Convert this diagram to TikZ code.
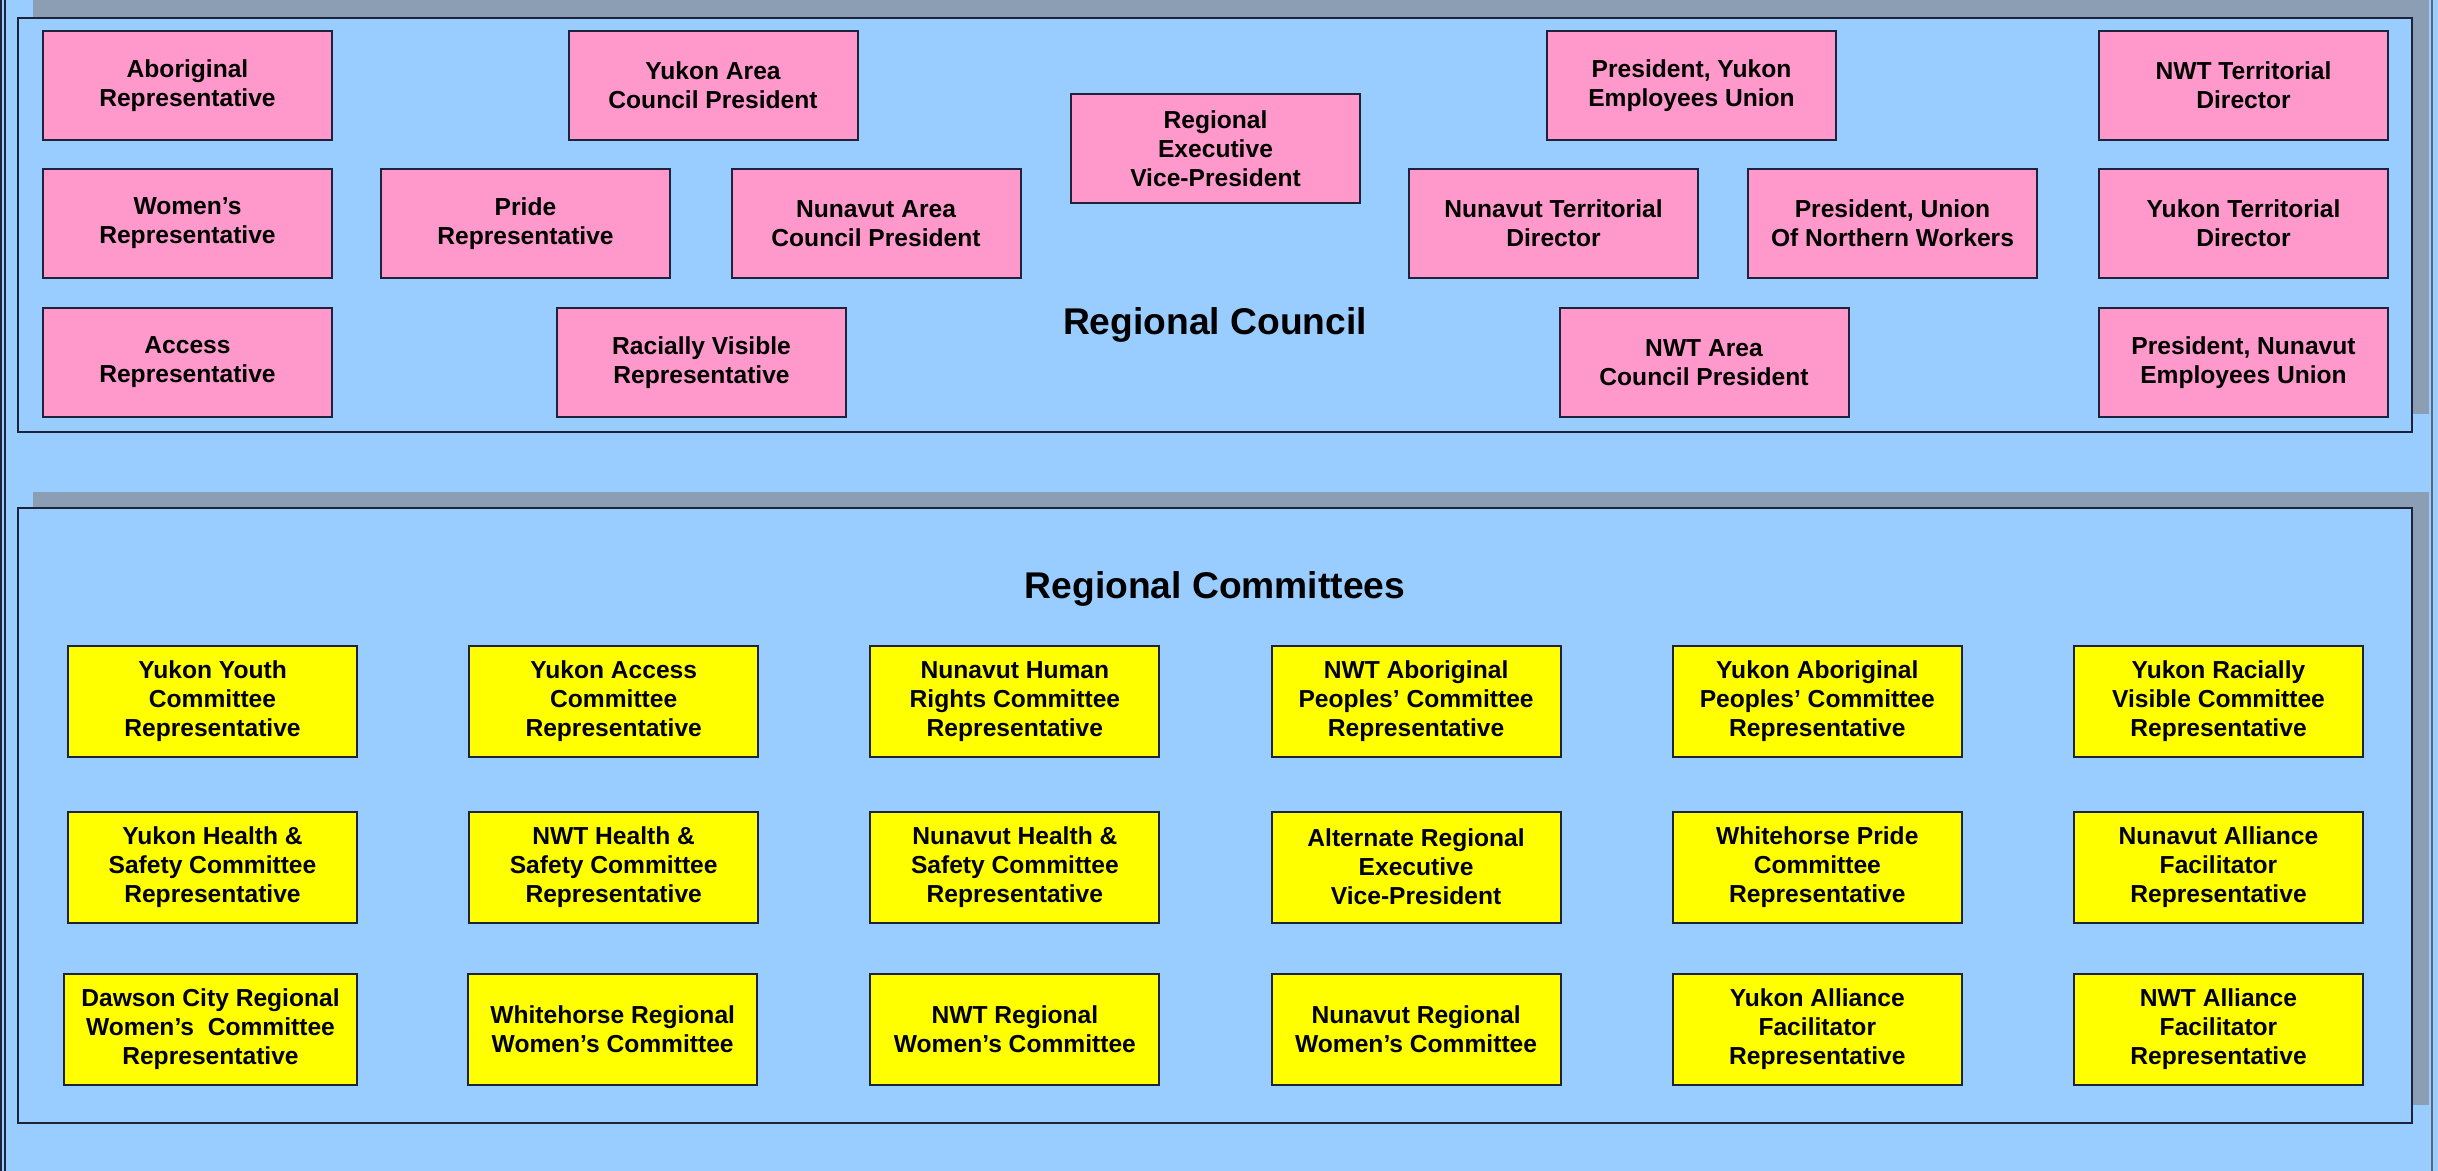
\documentclass[tikz,border=0pt]{standalone}
\usepackage{fontspec}
\setmainfont{Liberation Sans}
\definecolor{bg}{RGB}{153,204,255}
\definecolor{pinkfill}{RGB}{255,153,204}
\definecolor{yel}{RGB}{255,255,0}
\definecolor{shadowc}{RGB}{140,158,180}
\definecolor{edge}{RGB}{30,35,60}
\begin{document}
\begin{tikzpicture}[x=0.5pt,y=-0.5pt,
  box/.style={draw=edge, line width=1pt, minimum width=144.5pt, minimum height=54.5pt,
    inner sep=1pt, align=center, text=black,
    font=\fontsize{12.3}{14.5}\selectfont\bfseries},
  pinkbox/.style={box, fill=pinkfill},
  yelbox/.style={box, fill=yel, minimum height=55.5pt},
  title/.style={anchor=base, text=black, font=\fontsize{18.6}{22}\selectfont\bfseries},
  panel/.style={draw=edge, line width=1pt, fill=bg},
  shade/.style={fill=shadowc}]
\useasboundingbox (0,0) rectangle (2438,1171);
\fill[bg] (0,0) rectangle (2438,1171);
% frame lines
\draw[edge, line width=0.8pt] (1,0) -- (1,1171);
\draw[edge, line width=0.8pt] (5,0) -- (5,1171);
\draw[edge!70, line width=0.6pt] (2432,0) -- (2432,1171);
% panels
\fill[shade] (33,0) rectangle (2429,414);
\draw[panel] (18,18) rectangle (2412,432);
\fill[shade] (33,492) rectangle (2429,1105);
\draw[panel] (18,508) rectangle (2412,1123);
% Regional Council
\node[pinkbox] (abor) at (187.5,85.5) {Aboriginal\\Representative};
\node[pinkbox] (yukarea) at (713,85.5) {Yukon Area\\Council President};
\node[pinkbox] (revp) at (1215.5,148.5) {Regional\\Executive\\Vice-President};
\node[pinkbox] (pyeu) at (1691.5,85.5) {President, Yukon\\Employees Union};
\node[pinkbox] (nwtdir) at (2243.5,85.5) {NWT Territorial\\Director};
\node[pinkbox] (women) at (187.5,223.5) {Women's\\Representative};
\node[pinkbox] (pride) at (525.5,223.5) {Pride\\Representative};
\node[pinkbox] (nunarea) at (876,223.5) {Nunavut Area\\Council President};
\node[pinkbox] (nundir) at (1553.5,223.5) {Nunavut Territorial\\Director};
\node[pinkbox] (puonw) at (1892.5,223.5) {President, Union\\Of Northern Workers};
\node[pinkbox] (yukdir) at (2243.5,223.5) {Yukon Territorial\\Director};
\node[pinkbox] (access) at (187.5,362.5) {Access\\Representative};
\node[pinkbox] (racial) at (701.5,362.5) {Racially Visible\\Representative};
\node[pinkbox] (nwtarea) at (1704,362.5) {NWT Area\\Council President};
\node[pinkbox] (pneu) at (2243.5,362.5) {President, Nunavut\\Employees Union};
\node[title] (rc) at (1215,335) {Regional Council};
% Regional Committees
\node[title] (rcm) at (1215,599) {Regional Committees};
\node[yelbox] (y11) at (212.5,701.5) {Yukon Youth\\Committee\\Representative};
\node[yelbox] (y12) at (613.7,701.5) {Yukon Access\\Committee\\Representative};
\node[yelbox] (y13) at (1014.9,701.5) {Nunavut Human\\Rights Committee\\Representative};
\node[yelbox] (y14) at (1416.1,701.5) {NWT Aboriginal\\Peoples' Committee\\Representative};
\node[yelbox] (y15) at (1817.3,701.5) {Yukon Aboriginal\\Peoples' Committee\\Representative};
\node[yelbox] (y16) at (2218.5,701.5) {Yukon Racially\\Visible Committee\\Representative};
\node[yelbox] (y21) at (212.5,867) {Yukon Health \&\\Safety Committee\\Representative};
\node[yelbox] (y22) at (613.7,867) {NWT Health \&\\Safety Committee\\Representative};
\node[yelbox] (y23) at (1014.9,867) {Nunavut Health \&\\Safety Committee\\Representative};
\node[yelbox] (y24) at (1416.1,867) {Alternate Regional\\Executive\\Vice-President};
\node[yelbox] (y25) at (1817.3,867) {Whitehorse Pride\\Committee\\Representative};
\node[yelbox] (y26) at (2218.5,867) {Nunavut Alliance\\Facilitator\\Representative};
\node[yelbox, minimum width=146.5pt] (y31) at (210.5,1029) {Dawson City Regional\\Women's\ \ Committee\\Representative};
\node[yelbox] (y32) at (612.7,1029) {Whitehorse Regional\\Women's Committee};
\node[yelbox] (y33) at (1014.9,1029) {NWT Regional\\Women's Committee};
\node[yelbox] (y34) at (1416.1,1029) {Nunavut Regional\\Women's Committee};
\node[yelbox] (y35) at (1817.3,1029) {Yukon Alliance\\Facilitator\\Representative};
\node[yelbox] (y36) at (2218.5,1029) {NWT Alliance\\Facilitator\\Representative};
\end{tikzpicture}
\end{document}
